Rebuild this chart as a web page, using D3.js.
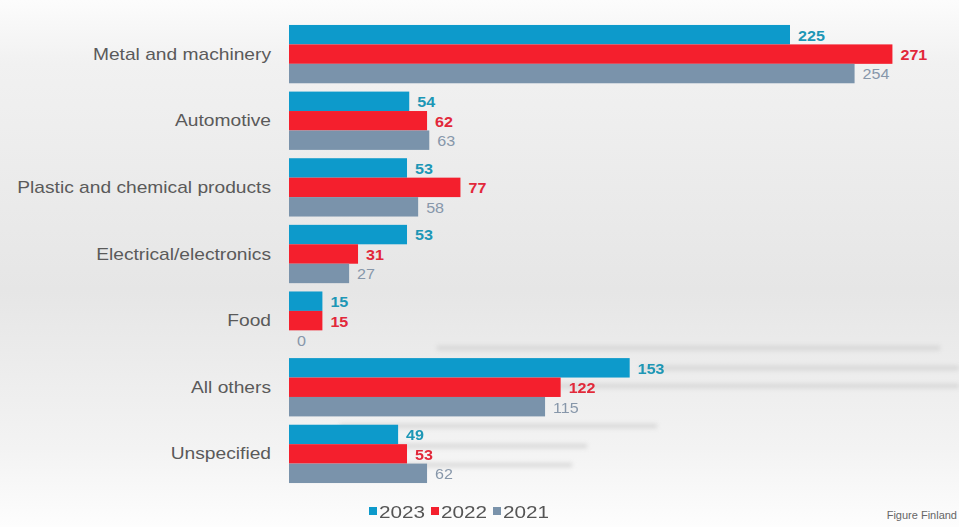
<!DOCTYPE html>
<html>
<head>
<meta charset="utf-8">
<script src="https://cdn.jsdelivr.net/npm/d3@7"></script>
<style>
  body { margin: 0; background: #fff; }
  svg { display: block; font-family: "Liberation Sans", Arial, sans-serif; }
</style>
</head>
<body>
<div id="chart"></div>
<script>
const categories = ["Metal and machinery", "Automotive", "Plastic and chemical products",
  "Electrical/electronics", "Food", "All others", "Unspecified"];
const seriesNames = ["2023", "2022", "2021"];
const values2023 = [225, 54, 53, 53, 15, 153, 49];
const values2022 = [271, 62, 77, 31, 15, 122, 53];
const values2021 = [254, 63, 58, 27, 0, 115, 62];

const barColors = { "2023": "#0d9acb", "2022": "#f41f2d", "2021": "#7a93ab" };
const textColors = { "2023": "#1d97b6", "2022": "#e2283a", "2021": "#8797aa" };

const width = 959, height = 527;

const svg = d3.select("#chart").append("svg")
  .attr("width", width)
  .attr("height", height);

// background gradient
const defs = svg.append("defs");
const grad = defs.append("linearGradient")
  .attr("id", "bg").attr("x1", 0).attr("y1", 0).attr("x2", 0).attr("y2", 1);
grad.append("stop").attr("offset", "0%").attr("stop-color", "#fcfcfc");
grad.append("stop").attr("offset", "12%").attr("stop-color", "#f1f1f1");
grad.append("stop").attr("offset", "55%").attr("stop-color", "#e6e6e6");
grad.append("stop").attr("offset", "85%").attr("stop-color", "#f3f3f3");
grad.append("stop").attr("offset", "100%").attr("stop-color", "#fdfdfd");
defs.append("filter").attr("id", "blur")
  .append("feGaussianBlur").attr("stdDeviation", 2);

svg.append("rect")
  .attr("width", width).attr("height", height)
  .attr("fill", "url(#bg)");

// faint streaks in the photo background
const streaks = [[437, 940, 348], [640, 959, 368], [520, 959, 386], [340, 657, 426], [380, 587, 446], [380, 572, 465]];
svg.append("g").attr("filter", "url(#blur)")
  .selectAll("rect").data(streaks).join("rect")
  .attr("x", d => d[0]).attr("width", d => d[1] - d[0])
  .attr("y", d => d[2] - 2).attr("height", 4)
  .attr("fill", "#cdcdcd").attr("opacity", 0.75);

const rows = categories.map((c, i) => ({
  category: c,
  "2023": values2023[i],
  "2022": values2022[i],
  "2021": values2021[i]
}));

const x = d3.scaleLinear().domain([0, 300]).range([289, 957]);

const y = d3.scaleBand()
  .domain(categories)
  .range([20.8, 487.2])
  .paddingInner(0.125)
  .paddingOuter(0.0625);

const ySub = d3.scaleBand()
  .domain(seriesNames)
  .range([0, y.bandwidth()]);

// category labels (source text is stretched wide)
svg.append("g").selectAll("text").data(categories).join("text")
  .attr("transform", d => `translate(271,${y(d) + y.bandwidth() / 2}) scale(1.2,1)`)
  .attr("dy", "0.35em")
  .attr("text-anchor", "end")
  .attr("font-size", 16)
  .attr("fill", "#5a5a5a")
  .text(d => d);

const groups = svg.append("g").selectAll("g").data(rows).join("g")
  .attr("transform", d => `translate(0,${y(d.category)})`);

groups.selectAll("rect")
  .data(d => seriesNames.map(s => ({ s, v: d[s] })))
  .join("rect")
  .attr("x", x(0))
  .attr("y", d => ySub(d.s))
  .attr("width", d => x(d.v) - x(0))
  .attr("height", ySub.bandwidth())
  .attr("fill", d => barColors[d.s]);

groups.selectAll("text")
  .data(d => seriesNames.map(s => ({ s, v: d[s] })))
  .join("text")
  .attr("transform", d => `translate(${x(d.v) + 8},${ySub(d.s) + ySub.bandwidth() / 2 + 1}) scale(1.15,1)`)
  .attr("dy", "0.35em")
  .attr("font-size", 14)
  .attr("font-weight", d => d.s === "2021" ? "normal" : "bold")
  .attr("fill", d => textColors[d.s])
  .text(d => d.v);

// legend
const legend = svg.append("g").attr("transform", "translate(369,516)");
const legendX = d3.scalePoint().domain(seriesNames).range([0, 124]);
const items = legend.selectAll("g").data(seriesNames).join("g")
  .attr("transform", d => `translate(${legendX(d)},0)`);
items.append("rect")
  .attr("x", 0).attr("y", -9)
  .attr("width", 8).attr("height", 8)
  .attr("fill", d => barColors[d]);
items.append("text")
  .attr("transform", "translate(10,0) scale(1.22,1)")
  .attr("dy", "0.1em")
  .attr("font-size", 17)
  .attr("fill", "#555")
  .text(d => d);

svg.append("text")
  .attr("x", 957).attr("y", 519)
  .attr("text-anchor", "end")
  .attr("font-size", 11)
  .attr("fill", "#666")
  .text("Figure Finland");
</script>
</body>
</html>
